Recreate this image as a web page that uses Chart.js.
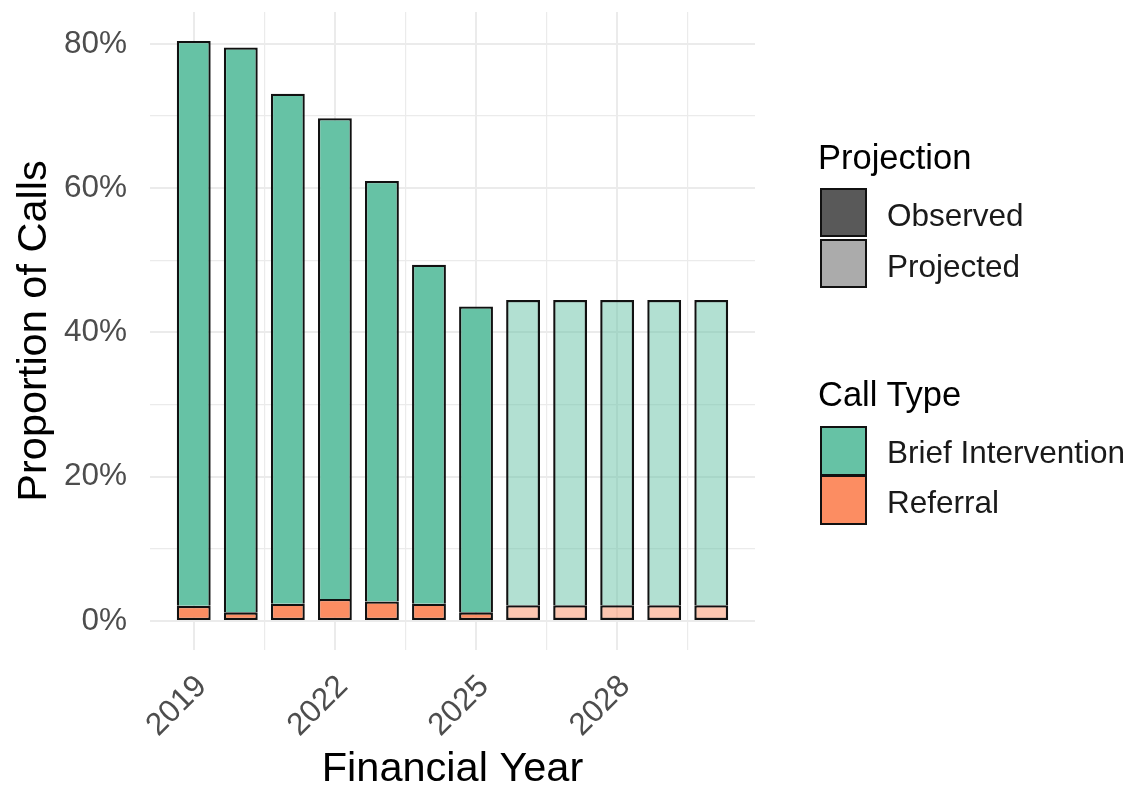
<!DOCTYPE html>
<html>
<head>
<meta charset="utf-8">
<script src="https://cdn.jsdelivr.net/npm/chart.js@4.4.1/dist/chart.umd.min.js"></script>
<style>
  body { margin: 0; background: #fff; font-family: 'Liberation Sans', Arial, sans-serif; }
  #wrap { position: relative; width: 1129px; height: 790px; }
  .lg-title { position: absolute; left: 818px; font-size: 34.5px; line-height: 34px; color: #000; white-space: nowrap; }
  .lg-key { position: absolute; left: 820px; width: 47px; box-sizing: border-box; border: 2px solid #111; }
  .lg-label { position: absolute; left: 887px; font-size: 31.5px; line-height: 32px; color: #1a1a1a; white-space: nowrap; }
</style>
</head>
<body>
<div id="wrap">
  <canvas id="chart" width="1129" height="790"></canvas>

  <div class="lg-title" style="top:140px">Projection</div>
  <div class="lg-key" style="top:188px;height:49px;background:#595959"></div>
  <div class="lg-label" style="top:199px">Observed</div>
  <div class="lg-key" style="top:239px;height:49px;background:#ababab"></div>
  <div class="lg-label" style="top:250px">Projected</div>

  <div class="lg-title" style="top:377px">Call Type</div>
  <div class="lg-key" style="top:426px;height:50px;background:#66c2a5"></div>
  <div class="lg-label" style="top:436px">Brief Intervention</div>
  <div class="lg-key" style="top:475px;height:50px;background:#fc8d62"></div>
  <div class="lg-label" style="top:486px">Referral</div>
</div>

<script>
// values (percent of calls)
const years = [2019, 2020, 2021, 2022, 2023, 2024, 2025, 2026, 2027, 2028, 2029, 2030];
const referral = [2.1, 1.2, 2.4, 3.05, 2.7, 2.4, 1.2, 2.2, 2.2, 2.2, 2.2, 2.2];
const briefIntervention = [78.3, 78.3, 70.7, 66.65, 58.3, 47.0, 42.4, 42.3, 42.3, 42.3, 42.3, 42.3];
const projected = [false, false, false, false, false, false, false, true, true, true, true, true];

const xTicks = [2019, 2020.5, 2022, 2023.5, 2025, 2026.5, 2028, 2029.5];
const yTicks = [0, 10, 20, 30, 40, 50, 60, 70, 80];

const colBI = ['#66c2a5', 'rgba(102,194,165,0.5)'];
const colRef = ['#fc8d62', 'rgba(252,141,98,0.5)'];

function points(vals){
  return years.map((y, i) => ({x: y, y: vals[i]}));
}

const gridColor = '#ebebeb';

function isMajor(ctx, test){
  return ctx.tick ? test(ctx.tick.value) : false;
}

const config = {
  type: 'bar',
  data: {
    datasets: [
      {
        label: 'Referral',
        data: points(referral),
        backgroundColor: projected.map(p => p ? colRef[1] : colRef[0]),
        borderColor: '#111',
        borderWidth: 2.3,
        borderSkipped: false,
        barPercentage: 0.72,
        categoryPercentage: 1
      },
      {
        label: 'Brief Intervention',
        data: points(briefIntervention),
        backgroundColor: projected.map(p => p ? colBI[1] : colBI[0]),
        borderColor: '#111',
        borderWidth: 2.3,
        borderSkipped: 'bottom',
        barPercentage: 0.72,
        categoryPercentage: 1
      }
    ]
  },
  options: {
    responsive: false,
    animation: false,
    devicePixelRatio: 1,
    layout: { padding: { top: 12, right: 374, left: 0, bottom: 0 } },
    plugins: {
      legend: { display: false },
      tooltip: { enabled: false }
    },
    scales: {
      x: {
        type: 'linear',
        stacked: true,
        offset: false,
        min: 2018.07,
        max: 2030.93,
        afterBuildTicks: axis => { axis.ticks = xTicks.map(v => ({value: v})); },
        afterFit: axis => {
          axis.height = 140;
          axis.paddingLeft = 0;
          axis.paddingRight = 0;
        },
        border: { display: false },
        grid: {
          offset: false,
          color: gridColor,
          drawTicks: false,
          lineWidth: ctx => isMajor(ctx, v => Number.isInteger(v)) ? 2 : 1.2
        },
        ticks: {
          autoSkip: false,
          minRotation: 45,
          maxRotation: 45,
          padding: 18,
          labelOffset: 8,
          color: '#4d4d4d',
          font: { size: 31.5 },
          callback: v => Number.isInteger(v) ? String(v) : ''
        },
        title: {
          display: true,
          text: 'Financial Year',
          color: '#000',
          font: { size: 41.5, lineHeight: 1 },
          padding: { top: 0, bottom: 0 }
        }
      },
      y: {
        stacked: true,
        min: -4.02,
        max: 84.42,
        afterBuildTicks: axis => { axis.ticks = yTicks.map(v => ({value: v})); },
        afterFit: axis => {
          axis.width = 150;
          axis.paddingTop = 0;
          axis.paddingBottom = 0;
        },
        border: { display: false },
        grid: {
          color: gridColor,
          drawTicks: false,
          lineWidth: ctx => isMajor(ctx, v => v % 20 === 0) ? 2 : 1.2
        },
        ticks: {
          padding: 23,
          color: '#4d4d4d',
          font: { size: 31.5 },
          callback: v => v % 20 === 0 ? v + '%' : ''
        },
        title: {
          display: true,
          text: 'Proportion of Calls',
          color: '#000',
          font: { size: 41.5, lineHeight: 1 },
          padding: { top: 14, bottom: 0 }
        }
      }
    }
  }
};

Chart.defaults.font.family = "'Liberation Sans', Arial, sans-serif";

window.addEventListener('DOMContentLoaded', () => {
  const ctx = document.getElementById('chart').getContext('2d');
  new Chart(ctx, config);
});
</script>
</body>
</html>
